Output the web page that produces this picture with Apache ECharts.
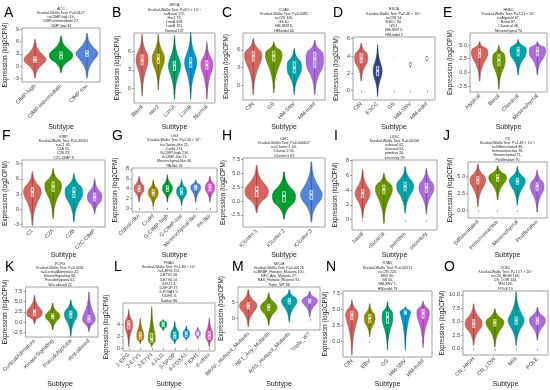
<!DOCTYPE html>
<html><head><meta charset="utf-8">
<script src="https://cdn.jsdelivr.net/npm/echarts@6/dist/echarts.min.js"></script>
<style>html,body{margin:0;padding:0;background:#fff}#c{width:550px;height:390px}</style>
</head><body><div id="c"></div>
<script>
// ---------- DATA (stats per violin: [min, q1, median, q3, max, relative width]) ----------
const A_cats = ['CIMP-high','CIMP-intermediate','CIMP-low'];
const A_stats = [[-2.8,1.0,1.6,2.3,6.5,0.85],[-1.5,1.8,2.7,3.5,7.3,0.9],[-2.8,2.4,3.1,3.8,8.0,0.85]];
const A_ticks = [-3,0,3,6,9];
const A_range = [-3.8,9.3];
const A_title = ['ACC','Kruskal-Wallis Test: P=0.0127','n=CIMP-high 19,','CIMP-intermediate 27,','CIMP-low 32'];

const B_cats = ['Basal','Her2','LumA','LumB','Normal'];
const B_stats = [[-1.2,3.8,4.5,5.4,8.7,0.75],[-0.1,4.0,4.8,5.5,8.7,0.75],[-1.7,2.9,3.7,4.4,8.5,0.75],[-1.7,3.4,4.2,5.0,9.0,0.75],[-1.7,3.1,3.8,4.5,7.4,0.75]];
const B_ticks = [0,3,6];
const B_range = [-2.3,8.9];
const B_title = ['BRCA','Kruskal-Wallis Test: P=8.5 × 10⁻¹¹','n=Basal 172,','Her2 73,','LumA 508,','LumB 191,','Normal 137'];

const C_cats = ['CIN','GS','HM-SNV','HM-indel'];
const C_stats = [[-1.5,4.1,5.0,5.7,7.9,0.85],[-1.2,4.1,5.0,5.8,7.3,0.8],[-1.5,2.1,3.0,4.0,6.2,0.7],[-1.5,3.0,4.5,5.6,7.6,0.85]];
const C_ticks = [0,3,6];
const C_range = [-2.4,8.8];
const C_title = ['COAD','Kruskal-Wallis Test: P=0.0382','n=CIN 326,','GS 40,','HM-SNV 6,','HM-indel 60'];

const D_cats = ['CIN','ESCC','GS','HM-SNV','HM-indel'];
const D_stats = [[1.1,3.2,3.7,4.3,5.5,0.8],[-0.7,1.7,2.3,2.8,5.3,0.55],[3.75,3.8,3.8,3.8,3.85,0.12],[2.7,2.9,3.0,3.2,3.3,0.15],[3.45,3.6,3.7,3.85,4.0,0.15]];
const D_ticks = [0,2,4,6];
const D_range = [-1.1,6.2];
const D_title = ['ESCA','Kruskal-Wallis Test: P=2.46 × 10⁻¹⁷','n=CIN 74,','ESCC 90,','GS 1,','HM-SNV 2,','HM-indel 2'];

const E_cats = ['Atypical','Basal','Classical','Mesenchymal'];
const E_stats = [[-1.6,2.7,3.5,4.3,5.6,0.85],[-3.1,1.2,2.2,3.3,4.9,0.65],[-0.5,3.0,4.0,4.6,6.0,0.85],[-0.5,3.0,3.9,4.6,5.6,0.85]];
const E_ticks = [-2.5,0,2.5,5];
const E_range = [-3.6,7.2];
const E_title = ['HNSC','Kruskal-Wallis Test: P=2.21 × 10⁻⁷','n=Atypical 67,','Basal 87,','Classical 48,','Mesenchymal 74'];

const F_cats = ['C1','C2A','C2B','C2C-CIMP'];
const F_stats = [[-3.2,2.5,3.4,4.3,7.4,0.85],[-1.8,3.5,4.5,5.4,8.0,0.8],[-2.5,2.3,3.4,4.3,7.0,0.85],[-0.9,1.6,2.4,3.2,6.0,0.7]];
const F_ticks = [-3,0,3,6,9];
const F_range = [-3.5,9.7];
const F_title = ['KIRP','Kruskal-Wallis Test: P=0.00561','n=C1 65,','C2A 55,','C2B 23,','C2C-CIMP 9'];

const G_cats = ['Classic-like','Codel','G-CIMP-high','G-CIMP-low','Mesenchymal-like','PA-like'];
const G_stats = [[1.25,3.4,4.0,4.6,6.5,0.7],[0.2,2.5,3.1,3.8,5.8,0.7],[1.2,3.4,4.0,4.6,6.8,0.7],[0.5,2.7,3.3,4.1,5.8,0.7],[1.2,3.7,4.2,4.7,5.8,0.7],[1.2,3.5,4.3,4.9,6.5,0.65]];
const G_ticks = [0,2,4,6,8];
const G_range = [-0.8,8.2];
const G_title = ['LGG','Kruskal-Wallis Test: P=2.56 × 10⁻⁶','n=Classic-like 25,','Codel 171,','G-CIMP-high 234,','G-CIMP-low 13,','Mesenchymal-like 46,','PA-like 26'];

const H_cats = ['iCluster:1','iCluster:2','iCluster:3'];
const H_stats = [[-2.1,0.8,1.8,2.6,6.5,0.85],[-3.3,-0.2,0.9,1.7,5.3,0.85],[-3.8,0.3,1.2,1.9,7.1,0.8]];
const H_ticks = [-2.5,0,2.5,5,7.5];
const H_range = [-4.7,7.8];
const H_title = ['LIHC','Kruskal-Wallis Test: P=0.000657','n=iCluster:1 64,','iCluster:2 58,','iCluster:3 63'];

const I_cats = ['basal','classical','primitive','secretory'];
const I_stats = [[0.2,3.0,3.6,4.1,6.8,0.7],[-0.5,3.5,4.1,4.7,6.3,0.8],[0.9,3.9,4.5,5.1,7.2,0.8],[0.8,3.7,4.4,4.9,7.0,0.7]];
const I_ticks = [0,2,4,6,8];
const I_range = [-1.4,8.1];
const I_title = ['LUSC','Kruskal-Wallis Test: P=0.00196','n=basal 42,','classical 63,','primitive 26,','secretory 39'];

const J_cats = ['Differentiated','Immunoreactive','Mesenchymal','Proliferative'];
const J_stats = [[0.5,3.9,4.5,5.0,6.9,0.8],[1.5,4.3,4.8,5.3,6.6,0.9],[0.7,3.8,4.3,4.8,6.5,0.8],[-0.3,2.9,3.6,4.1,6.0,0.7]];
const J_ticks = [0,2.5,5];
const J_range = [-1.2,7.2];
const J_title = ['OV','Kruskal-Wallis Test: P=1.48 × 10⁻¹¹','n=Differentiated 86,','Immunoreactive 76,','Mesenchymal 71,','Proliferative 70'];

const K_cats = ['CorticalAdmixture','KinaseSignaling','Pseudohypoxia','Wnt-altered'];
const K_stats = [[-0.4,1.5,2.5,3.0,6.5,0.85],[-1.9,0.8,1.4,2.0,4.6,0.8],[-3.5,1.0,1.9,2.7,5.4,0.7],[-2.3,0.0,0.8,1.6,7.3,0.7]];
const K_ticks = [-2.5,0,2.5,5,7.5];
const K_range = [-3.6,8.5];
const K_title = ['PCPG','Kruskal-Wallis Test: P=0.0201','n=CorticalAdmixture 22,','KinaseSignaling 68,','Pseudohypoxia 61,','Wnt-altered 22'];

const L_cats = ['1-ERG','2-ETV1','3-ETV4','4-FLI1','5-SPOP','6-FOXA1','7-IDH1','8-other'];
const L_stats = [[0.2,3.2,4.0,4.6,6.5,0.65],[0.7,1.5,2.1,2.7,5.1,0.6],[0.2,1.0,1.5,2.5,7.0,0.6],[2.9,3.6,4.0,4.4,4.8,0.6],[0.7,1.6,2.1,2.7,4.5,0.7],[1.3,1.9,2.4,2.8,3.7,0.55],[1.5,2.1,2.4,2.8,3.5,0.45],[0.2,1.5,2.1,2.8,5.1,0.6]];
const L_ticks = [0,2,4];
const L_range = [-0.5,7.6];
const L_title = ['PRAD','Kruskal-Wallis Test: P=1.84 × 10⁻⁷','n=1-ERG 152,','2-ETV1 28,','3-ETV4 14,','4-FLI1 3,','5-SPOP 37,','6-FOXA1 9,','7-IDH1 3,','8-other 86'];

const M_cats = ['BRAF_Hotspot_Mutants','NF1_Any_Mutants','RAS_Hotspot_Mutants','Triple_WT'];
const M_stats = [[-2.5,3.0,4.0,5.0,9.0,0.85],[-2.0,2.5,3.5,4.5,8.0,0.8],[-1.0,4.5,5.5,6.3,9.0,0.75],[0.5,4.8,5.5,6.2,8.5,0.75]];
const M_ticks = [0,5];
const M_range = [-3.5,9.8];
const M_title = ['SKCM','Kruskal-Wallis Test: P=0.00126','n=BRAF_Hotspot_Mutants 150,','NF1_Any_Mutants 27,','RAS_Hotspot_Mutants 92,','Triple_WT 46'];

const N_cats = ['CIN','EBV','GS','HM-SNV','HM-indel'];
const N_stats = [[-2.2,3.4,4.1,4.7,6.5,0.7],[0.7,2.9,3.6,4.2,5.9,0.6],[-1.4,2.8,3.8,4.6,6.2,0.6],[-1.4,4.2,4.5,4.8,5.4,0.6],[-1.0,3.6,4.4,5.0,6.3,0.7]];
const N_ticks = [0,2.5,5,7.5];
const N_range = [-2.5,7.9];
const N_title = ['STAD','Kruskal-Wallis Test: P=0.00271','n=CIN 223,','EBV 30,','GS 50,','HM-SNV 7,','HM-indel 73'];

const O_cats = ['CN_HIGH','CN_LOW','MSI','POLE'];
const O_stats = [[0.6,3.9,4.6,5.4,8.3,0.8],[0.3,4.2,4.8,5.4,7.4,0.85],[0.6,4.5,5.2,5.9,10.5,0.75],[1.5,4.5,5.2,5.8,7.7,0.75]];
const O_ticks = [0,2.5,5,7.5,10];
const O_range = [-1.2,10.7];
const O_title = ['UCEC','Kruskal-Wallis Test: P=1.57 × 10⁻⁷','n=CN_HIGH 163,','CN_LOW 144,','MSI 126,','POLE 19'];

// ---------- LAYOUT / STYLE ----------
const PAL = {
  3:['#F8766D','#00BA38','#619CFF'],
  4:['#F8766D','#7CAE00','#00BFC4','#C77CFF'],
  5:['#F8766D','#A3A500','#00BF7D','#00B0F6','#E76BF3'],
  6:['#F8766D','#B79F00','#00BA38','#00BFC4','#619CFF','#F564E3'],
  8:['#F8766D','#CD9600','#7CAE00','#00BE67','#00BFC4','#00A9FF','#C77CFF','#FF61CC']
};
const D_colors = ['#F8766D','#3E56A8','#555555','#555555','#555555'];
const panels = [
  ['A',A_cats,A_stats,A_ticks,A_range,A_title,{l:22,t:28,w:78,h:54,lx:4,ly:14,sy:127}],
  ['B',B_cats,B_stats,B_ticks,B_range,B_title,{l:134,t:33,w:81,h:70,lx:112,ly:14,sy:127}],
  ['C',C_cats,C_stats,C_ticks,C_range,C_title,{l:243,t:33,w:82,h:67,lx:222,ly:14,sy:127}],
  ['D',D_cats,D_stats,D_ticks,D_range,D_title,{l:353,t:37,w:82,h:63,lx:333,ly:14,sy:127,colors:D_colors}],
  ['E',E_cats,E_stats,E_ticks,E_range,E_title,{l:470,t:33,w:77,h:59,lx:443,ly:14,sy:127}],
  ['F',F_cats,F_stats,F_ticks,F_range,F_title,{l:22,t:160,w:83,h:67,lx:2,ly:137,sy:255}],
  ['G',G_cats,G_stats,G_ticks,G_range,G_title,{l:132,t:168,w:85,h:44,lx:112,ly:137,sy:255}],
  ['H',H_cats,H_stats,H_ticks,H_range,H_title,{l:243,t:158,w:82,h:69,lx:222,ly:137,sy:255}],
  ['I',I_cats,I_stats,I_ticks,I_range,I_title,{l:352,t:160,w:85,h:70,lx:334,ly:137,sy:255}],
  ['J',J_cats,J_stats,J_ticks,J_range,J_title,{l:468,t:162,w:79,h:56,lx:443,ly:137,sy:255}],
  ['K',K_cats,K_stats,K_ticks,K_range,K_title,{l:22,t:287,w:76,h:50,lx:5,ly:268,sy:384}],
  ['L',L_cats,L_stats,L_ticks,L_range,L_title,{l:123,t:303,w:92,h:48,lx:114,ly:268,sy:384}],
  ['M',M_cats,M_stats,M_ticks,M_range,M_title,{l:238,t:287,w:82,h:43,lx:232,ly:268,sy:384}],
  ['N',N_cats,N_stats,N_ticks,N_range,N_title,{l:343,t:291,w:89,h:66,lx:326,ly:268,sy:384}],
  ['O',O_cats,O_stats,O_ticks,O_range,O_title,{l:463,t:291,w:85,h:64,lx:444,ly:268,sy:384}]
];

function shade(hex, f){
  const n=parseInt(hex.slice(1),16);
  const r=(n>>16)&255,g=(n>>8)&255,b=n&255;
  return 'rgb('+Math.round(r*f)+','+Math.round(g*f)+','+Math.round(b*f)+')';
}

function makeRender(colors){
  return function(params, api){
    const i=api.value(0), mn=api.value(1), q1=api.value(2), md=api.value(3), q3=api.value(4), mx=api.value(5), wf=api.value(6);
    const band=api.size([1,0])[0];
    const half=band*0.5*wf;
    const cx=api.coord([i,md])[0];
    const y=v=>api.coord([i,v])[1];
    const lo=q1-(q1-mn)*0.28, hi=q3+(mx-q3)*0.28;
    const prof=[[mn,0.03],[mn+(lo-mn)*0.5,0.12],[lo,0.45],[q1,0.88],[md,1],[q3,0.88],[hi,0.45],[hi+(mx-hi)*0.5,0.12],[mx,0.03]];
    const right=prof.map(p=>[cx+half*p[1],y(p[0])]);
    const left=prof.slice().reverse().map(p=>[cx-half*p[1],y(p[0])]);
    const base=colors[params.dataIndex % colors.length];
    const c=shade(base,0.86);
    const bw=Math.max(2,band*0.1);
    return {type:'group',children:[
      {type:'polygon',shape:{points:right.concat(left),smooth:0.35},style:{fill:c,stroke:shade(base,0.6),lineWidth:0.5}},
      {type:'line',shape:{x1:cx,y1:y(mn+(q1-mn)*0.15),x2:cx,y2:y(mx-(mx-q3)*0.15)},style:{stroke:shade(base,0.4),lineWidth:0.5}},
      {type:'rect',shape:{x:cx-bw/2,y:y(q3),width:bw,height:Math.max(1,y(q1)-y(q3))},style:{fill:c,stroke:'#fff',lineWidth:0.7}},
      {type:'circle',shape:{cx:cx,cy:y(md),r:1},style:{fill:'#fff'}}
    ]};
  };
}

const grids=[],xAxes=[],yAxes=[],series=[],graphics=[];
const FONT='Liberation Sans, Arial, sans-serif';
panels.forEach((p,k)=>{
  const [id,cats,stats,ticks,range,title,L]=p;
  const colors=L.colors||PAL[cats.length];
  grids.push({left:L.l,top:L.t,width:L.w,height:L.h,show:true,borderColor:'#8a8a8a',borderWidth:0.8,containLabel:false});
  const dec=ticks.some(t=>t%1!==0);
  xAxes.push({type:'category',gridIndex:k,data:cats,boundaryGap:true,
    axisLine:{show:false},axisTick:{show:true,alignWithLabel:true,length:2,lineStyle:{color:'#666',width:0.6}},
    axisLabel:{rotate:45,interval:0,fontSize:5.5,color:'#444',margin:3,fontFamily:FONT},splitLine:{show:false}});
  yAxes.push({type:'value',gridIndex:k,min:range[0],max:range[1],
    name:'Expression (log2CPM)',nameLocation:'middle',nameGap:13,nameTextStyle:{fontSize:6.5,color:'#222',fontFamily:FONT},
    axisLine:{show:false},axisTick:{show:true,length:2,customValues:ticks,lineStyle:{color:'#666',width:0.6}},
    axisLabel:{fontSize:5.5,color:'#444',margin:3,fontFamily:FONT,customValues:ticks,formatter:v=>dec?v.toFixed(1):String(v)},
    splitLine:{show:false}});
  series.push({type:'custom',xAxisIndex:k,yAxisIndex:k,renderItem:makeRender(colors),
    data:stats.map((s,i)=>[i].concat(s)),encode:{x:0,y:[1,5]},silent:true});
  graphics.push({type:'text',left:L.lx,top:L.ly-8,style:{text:id,fontSize:14,fill:'#000',fontFamily:FONT}});
  const cx=L.l+L.w/2, n=title.length;
  title.forEach((t,j)=>{
    graphics.push({type:'text',x:cx,y:L.t-2.5-(n-1-j)*4.2,style:{text:t,fontSize:3.6,fill:'#222',align:'center',verticalAlign:'middle',fontFamily:FONT}});
  });
  graphics.push({type:'text',x:cx,y:L.sy,style:{text:'Subtype',fontSize:7,fill:'#222',align:'center',verticalAlign:'middle',fontFamily:FONT}});
});

const chart=echarts.init(document.getElementById('c'),null,{renderer:'canvas'});
chart.setOption({animation:false,backgroundColor:'#fff',grid:grids,xAxis:xAxes,yAxis:yAxes,series:series,graphic:graphics});
</script></body></html>
